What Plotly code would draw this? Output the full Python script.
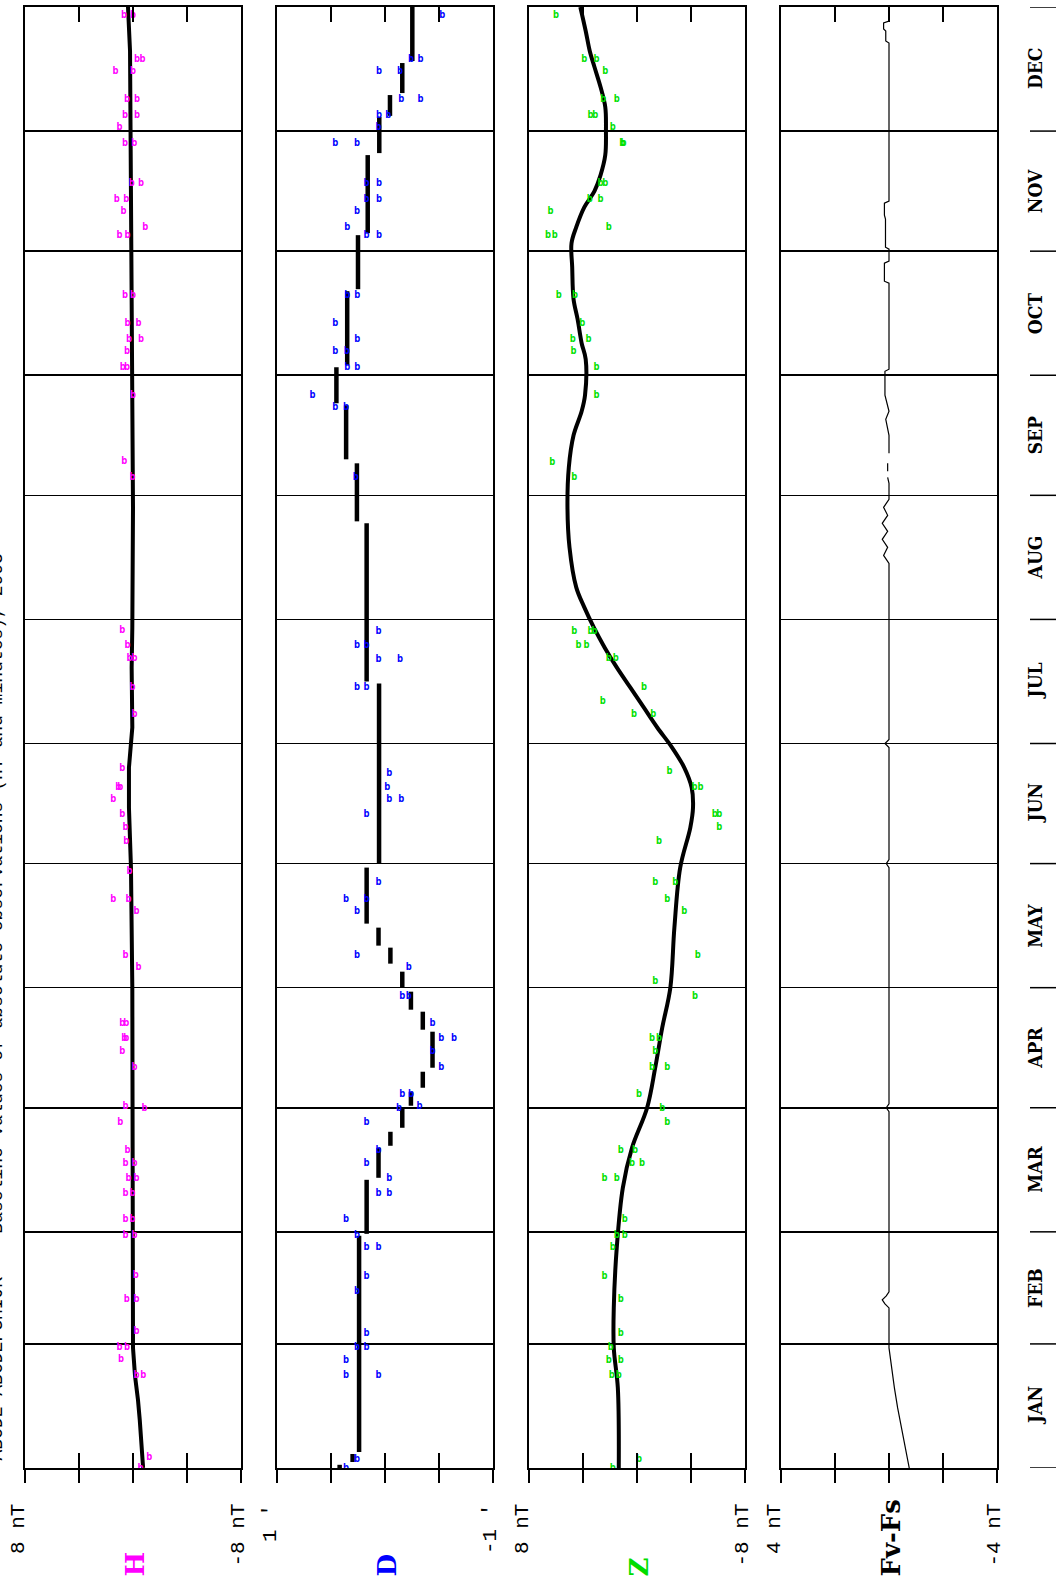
import plotly.graph_objects as go

W, HT = 1056, 1586

# ---------------- data ----------------
month_names = ["JAN", "FEB", "MAR", "APR", "MAY", "JUN", "JUL", "AUG", "SEP", "OCT", "NOV", "DEC"]
month_starts = [0, 31, 59, 90, 120, 151, 181, 212, 243, 273, 304, 334, 365]

# H  (day of year, nT)
H_obs_day = [0, 2.5, 23, 23, 27, 30, 30, 34, 42, 42, 48, 58, 58,
             62, 62, 68.5, 68.5, 72.3, 72.3, 76, 76, 79.4,
             86.2, 89.7, 90.2, 100, 104, 107.4, 107.4, 111, 111,
             125, 128, 139, 142, 142, 149,
             156.5, 160, 163.3, 167, 170, 170, 174.7,
             188.3, 195, 202.2, 202.2, 205.5, 209.3,
             247.5, 251.5,
             268, 275, 275, 279, 282, 282, 286, 286, 293, 293,
             308, 308, 310, 314, 317, 317, 321, 321, 331, 331,
             335, 338, 338, 342, 342, 349, 349, 352, 352, 363, 363]
H_obs_val = [-0.56, -1.2, -0.27, -0.76, 0.89, 1.0, 0.44, -0.27, 0.47, -0.27, -0.2, 0.56, -0.11,
             0.56, 0.04, 0.56, 0.04, 0.34, -0.26, 0.56, -0.11, 0.41,
             0.94, -0.86, 0.56, -0.11, 0.79, 0.64, 0.49, 0.79, 0.49,
             -0.41, 0.56, -0.26, 1.47, 0.34, 0.26,
             0.49, 0.56, 0.79, 1.47, 1.09, 0.94, 0.79,
             -0.11, 0.04, 0.26, -0.11, 0.41, 0.79,
             0.04, 0.64,
             0.0, 0.75, 0.45, 0.45, 0.3, -0.6, 0.4, -0.4, 0.6, 0.0,
             1.0, 0.4, -0.9, 0.7, 1.2, 0.5, 0.1, -0.6, 0.6, -0.1,
             1.0, 0.6, -0.3, 0.45, -0.3, 1.3, 0.0, -0.3, -0.7, 0.67, 0.0]
H_base_day = [0, 5, 12, 17, 23, 30, 60, 90, 120, 150, 165, 175, 185, 200, 210, 240, 270, 300, 340, 354, 365]
H_base_val = [-0.75, -0.67, -0.5, -0.37, -0.15, 0.0, 0.0, 0.0, 0.05, 0.15, 0.3, 0.3, 0.05, 0.1, 0.05, 0.0, 0.05, 0.1, 0.15, 0.22, 0.37]

# D  (day of year, arc-minutes)
D_obs_day = [0, 2, 23, 26.8, 23, 30, 33.6, 30,
             44, 47.8, 62.2, 55, 55, 58,
             76, 79.4, 72.3, 68.5, 68.5, 86.2,
             93.3, 93.3, 90.2, 89.7, 104, 100, 107.4, 107.4, 111,
             117.8, 117.8, 125, 128, 139, 142, 142, 146.4,
             163.3, 167, 170, 173.4, 167,
             205.5, 205.5, 209, 202, 202, 195, 195,
             247.5, 265, 265, 268,
             275, 275, 279, 279, 282, 286, 293, 293,
             308, 308, 310, 314, 317, 317, 321, 321, 331, 331,
             335, 338, 338, 342, 342, 349, 349, 352, 352, 363]
D_obs_val = [0.36, 0.26, 0.36, 0.36, 0.06, 0.26, 0.17, 0.17,
             0.26, 0.17, 0.36, 0.17, 0.06, 0.26,
             0.17, 0.06, -0.04, -0.04, 0.06, 0.17,
             -0.16, -0.24, -0.32, -0.13, -0.44, -0.52, -0.52, -0.64, -0.44,
             -0.16, -0.22, -0.22, 0.26, 0.26, 0.36, 0.17, 0.06,
             0.17, -0.04, -0.02, -0.04, -0.15,
             0.26, 0.17, 0.06, 0.06, -0.14, 0.26, 0.17,
             0.27, 0.36, 0.46, 0.67,
             0.35, 0.256, 0.46, 0.355, 0.256, 0.46, 0.35, 0.256,
             0.17, 0.055, 0.35, 0.26, 0.17, 0.055, 0.17, 0.055, 0.46, 0.26,
             0.06, 0.055, -0.03, -0.15, -0.33, 0.055, -0.14, -0.24, -0.33, -0.53]
D_seg_start = [0, 1.5, 4, 58.5, 72.5, 80.5, 85, 90.5, 95, 100, 109.5, 114.5, 120, 126, 130.5, 136, 151,
               196.5, 236.5, 252, 266, 275.5, 294.5, 308.5, 328.5, 337.8, 343.5, 351.5]
D_seg_end = [0.8, 3.5, 58, 72, 80, 84, 90, 94, 99, 109, 114, 119, 124, 130, 135, 150, 196,
             236, 251, 265.5, 275, 294, 308, 328, 337.5, 343, 351, 365]
D_seg_val = [0.42, 0.3, 0.24, 0.17, 0.06, -0.05, -0.16, -0.24, -0.35, -0.44, -0.35, -0.24, -0.16, -0.05, 0.06, 0.17, 0.055,
             0.17, 0.26, 0.36, 0.45, 0.35, 0.25, 0.16, 0.053, -0.046, -0.16, -0.253]

# Z  (day of year, nT)
Z_obs_day = [0, 2, 23, 23, 26.8, 26.8, 30, 33.6,
             42, 47.8, 55, 58, 58, 62,
             72.3, 72.3, 76, 76, 79.4, 79.4,
             86.2, 89.7, 93.3, 100, 100, 104, 107.4, 107.4,
             117.8, 121.6, 128, 139, 142, 146.4, 146.4,
             156.5, 160, 163.3, 163.3, 170, 170, 174,
             188.3, 188.3, 191.4, 195, 202.2, 202.2, 205.5, 205.5, 209, 209, 209,
             247.5, 251.3,
             268, 275, 279, 282, 282, 286, 293, 293,
             308, 308, 310, 314, 317, 317, 321, 321, 331, 331,
             335, 338, 338, 342, 342, 349, 352, 352, 363]
Z_obs_val = [1.8, -0.15, 1.87, 1.35, 2.1, 1.2, 1.95, 1.2,
             1.2, 2.4, 1.8, 1.5, 0.9, 0.9,
             2.4, 1.5, 0.37, -0.37, 1.2, 0.15,
             -2.24, -1.87, -0.15, -1.12, -2.24, -1.35, -1.64, -1.12,
             -4.3, -1.35, -4.5, -3.5, -2.24, -2.84, -1.35,
             -1.64, -6.1, -5.76, -6.1, -4.26, -4.7, -2.4,
             -1.2, 0.22, 2.54, -0.52, 2.1, 1.57, 4.34, 3.74, 3.44, 4.64, 3.14,
             4.64, 6.28,
             3.0, 3.0, 4.7, 4.75, 3.6, 4.05, 5.8, 4.6,
             6.6, 6.1, 2.1, 6.4, 3.5, 2.7, 2.7, 2.35, 1.1, 1.0,
             1.8, 3.45, 3.1, 2.5, 1.5, 2.35, 3.9, 3.0, 6.0]
Z_base_day = [0, 20, 30, 40, 55, 70, 80, 90, 100, 110, 120, 135, 150, 160, 165, 170, 175, 180, 185, 190, 195,
              200, 205, 210, 215, 220, 230, 240, 250, 258, 264, 268, 277, 281, 287, 292, 300, 306, 310, 315,
              319, 323, 328, 334, 340, 345, 350, 354, 359, 365]
Z_base_val = [1.35, 1.42, 1.72, 1.72, 1.5, 1.05, 0.37, -0.75, -1.35, -1.87, -2.47, -2.77, -3.2, -3.95, -4.15,
              -4.05, -3.5, -2.6, -1.5, -0.5, 0.5, 1.5, 2.4, 3.2, 3.9, 4.5, 5.0, 5.15, 5.05, 4.7, 4.1, 3.85,
              3.8, 4.1, 4.4, 4.7, 4.8, 4.85, 4.5, 3.9, 3.15, 2.7, 2.35, 2.3, 2.35, 2.7, 3.15, 3.5, 3.8, 4.2]

# Fv - Fs  (day of year, nT); None marks gaps
F_day = [0, 5, 10, 15, 20, 25, 30, 40, 41, 42, 43, 44, 60, 89, 90, 91, 120, 150, 151, 152, 180, 181, 182,
         212, 226, 228, 230, 232, 234, 236, 238, 240, 242, 246, 247.5, 248, 249, 251, 252, 253.5, 258, 262, 264,
         268, 274, 274.5, 296, 296.5, 301, 301.5, 304.5, 305, 312, 313, 316, 316.5, 356, 356.5, 359, 359.5,
         361, 361.5, 365]
F_val = [-0.75, -0.6, -0.45, -0.32, -0.2, -0.1, 0.0, 0.0, 0.15, 0.25, 0.1, 0.0, 0.0, 0.0, 0.1, 0.0, 0.0, 0.0, 0.1, 0.0,
         0.0, 0.15, 0.0,
         0.0, 0.0, 0.2, 0.05, 0.25, 0.05, 0.25, 0.05, 0.2, 0.0, 0.0, 0.05, None, 0.05, 0.05, None, 0.0, 0.0, 0.12, 0.0,
         0.15, 0.15, 0.0, 0.0, 0.17, 0.17, 0.0, 0.0, 0.13, 0.13, 0.17, 0.17, 0.0, 0.0, 0.12, 0.12, 0.2,
         0.2, 0.0, 0.0]

# -------------- layout helpers --------------
panel_left_px = [25, 277, 529, 781]
panel_w_px = 216
top_px, bottom_px = 7, 1468
x_ranges = [8, 1, 8, 4]
comp_names = ["H", "D", "Z", "Fv-Fs"]
comp_colors = ["#ff00ff", "#0000ff", "#00dd00", "#000000"]
left_labels = ["8 nT", "1 '", "8 nT", "4 nT"]
right_labels = ["-8 nT", "-1 '", "-8 nT", "-4 nT"]
obs_colors = ["#ff00ff", "#0000ff", "#00e000"]

def px_x(p):
    return p / W

def px_y(p):
    return 1 - p / HT

ydom = [px_y(bottom_px), px_y(top_px)]

fig = go.Figure()

layout = dict(width=W, height=HT, margin=dict(l=0, r=0, t=0, b=0),
              paper_bgcolor="white", plot_bgcolor="white", showlegend=False)

for i in range(4):
    n = i + 1
    r = x_ranges[i]
    dom = [px_x(panel_left_px[i]), px_x(panel_left_px[i] + panel_w_px)]
    tv = [r, r / 2, 0, -r / 2, -r]
    layout["xaxis" if n == 1 else f"xaxis{n}"] = dict(
        domain=dom, range=[r, -r], anchor="y" if n == 1 else f"y{n}",
        tickvals=tv, ticks="inside", ticklen=15, tickwidth=1.5, tickcolor="black",
        showline=True, linecolor="black", linewidth=2, mirror="ticks",
        showticklabels=False, showgrid=False, zeroline=False, fixedrange=True)
    layout[f"xaxis{n + 4}"] = dict(
        overlaying="x" if n == 1 else f"x{n}", anchor="y" if n == 1 else f"y{n}",
        range=[r, -r], tickvals=tv, ticks="outside", ticklen=14, tickwidth=1.5, tickcolor="black",
        showline=False, showticklabels=False, showgrid=False, zeroline=False, side="bottom")
    layout["yaxis" if n == 1 else f"yaxis{n}"] = dict(
        domain=ydom, range=[0, 365], anchor="x" if n == 1 else f"x{n}",
        tickvals=month_starts, ticks="", showticklabels=False,
        showgrid=True, gridcolor="black", gridwidth=1.6,
        showline=True, linecolor="black", linewidth=2, mirror=True, zeroline=False)

fig.update_layout(**layout)

mfont = "DejaVu Sans Mono"

# H
fig.add_trace(go.Scatter(x=H_base_val, y=H_base_day, mode="lines", line=dict(color="black", width=4),
                         xaxis="x", yaxis="y", hoverinfo="skip"))
fig.add_trace(go.Scatter(x=H_obs_val, y=H_obs_day, mode="text", text=["<b>b</b>"] * len(H_obs_day),
                         textfont=dict(family=mfont, size=10, color=obs_colors[0]),
                         xaxis="x5", yaxis="y"))
# D
dx, dy = [], []
for s, e, v in zip(D_seg_start, D_seg_end, D_seg_val):
    dx += [v, v, None]
    dy += [s, e, None]
fig.add_trace(go.Scatter(x=dx, y=dy, mode="lines", line=dict(color="black", width=4.5),
                         xaxis="x2", yaxis="y2", hoverinfo="skip"))
fig.add_trace(go.Scatter(x=D_obs_val, y=D_obs_day, mode="text", text=["<b>b</b>"] * len(D_obs_day),
                         textfont=dict(family=mfont, size=10, color=obs_colors[1]),
                         xaxis="x6", yaxis="y2"))
# Z
fig.add_trace(go.Scatter(x=Z_base_val, y=Z_base_day, mode="lines", line=dict(color="black", width=4, shape="spline"),
                         xaxis="x3", yaxis="y3", hoverinfo="skip"))
fig.add_trace(go.Scatter(x=Z_obs_val, y=Z_obs_day, mode="text", text=["<b>b</b>"] * len(Z_obs_day),
                         textfont=dict(family=mfont, size=10, color=obs_colors[2]),
                         xaxis="x7", yaxis="y3"))
# Fv-Fs
fig.add_trace(go.Scatter(x=F_val, y=F_day, mode="lines", line=dict(color="black", width=1.2),
                         connectgaps=False, xaxis="x4", yaxis="y4", hoverinfo="skip"))
fig.add_trace(go.Scatter(x=[], y=[], mode="lines", xaxis="x8", yaxis="y4"))

annotations = []
tick_font = dict(family="Liberation Mono", size=21, color="black")
for i in range(4):
    L = panel_left_px[i]
    R = L + panel_w_px
    annotations.append(dict(text=left_labels[i], xref="paper", yref="paper", x=px_x(L - 7), y=px_y(1502),
                            xanchor="center", yanchor="top", textangle=-90, showarrow=False, font=tick_font))
    annotations.append(dict(text=right_labels[i], xref="paper", yref="paper", x=px_x(R - 3), y=px_y(1502),
                            xanchor="center", yanchor="top", textangle=-90, showarrow=False, font=tick_font))
    annotations.append(dict(text="<b>" + comp_names[i] + "</b>", xref="paper", yref="paper",
                            x=px_x(L + panel_w_px / 2 + 1), y=px_y(1579),
                            xanchor="center", yanchor="bottom", textangle=-90, showarrow=False,
                            font=dict(family="DejaVu Serif", size=26, color=comp_colors[i])))

# month labels
for k, name in enumerate(month_names):
    mid = (month_starts[k] + month_starts[k + 1]) / 2
    annotations.append(dict(text="<b>" + name + "</b>", xref="paper", yref="y4", x=px_x(1035), y=mid,
                            xanchor="center", yanchor="middle", textangle=-90, showarrow=False,
                            font=dict(family="DejaVu Serif Condensed, DejaVu Serif", size=19, color="black")))

# title on the left edge (clipped by the page edge as in the original)
annotations.append(dict(text="ABCDE ABCDEFGHIJK    Baseline values of absolute observations (nT and minutes), 2003",
                        xref="paper", yref="paper", x=px_x(-4), y=px_y(1463),
                        xanchor="center", yanchor="bottom", textangle=-90, showarrow=False,
                        font=dict(family="Liberation Mono", size=18, color="black")))

shapes = []
for ms in month_starts:
    shapes.append(dict(type="line", xref="paper", yref="y4", x0=px_x(1030), x1=px_x(1056), y0=ms, y1=ms,
                       line=dict(color="black", width=1.5)))

fig.update_layout(annotations=annotations, shapes=shapes)
fig.write_html("out.html", post_script="document.body.style.margin='0px';",
               config={"displayModeBar": False, "staticPlot": True})
